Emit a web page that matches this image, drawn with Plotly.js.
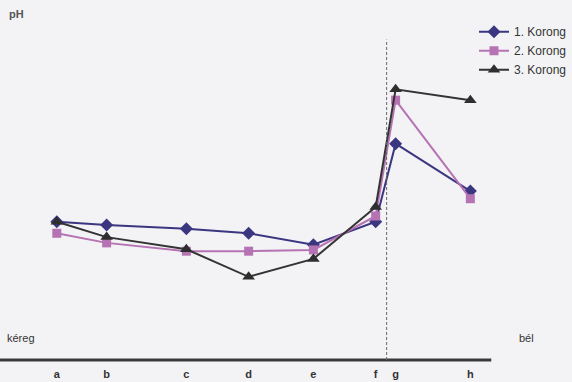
<!DOCTYPE html>
<html>
<head>
<meta charset="utf-8">
<script src="https://cdn.plot.ly/plotly-3.0.1.min.js"></script>
<style>html,body{margin:0;padding:0;background:#f3f3f5;}#chart{width:572px;height:382px;}</style>
</head>
<body>
<div id="chart"></div>
<script>
// Categories (sampling positions from bark "kéreg" to pith "bél") and their relative depths
const categories = ['a', 'b', 'c', 'd', 'e', 'f', 'g', 'h'];
const depth = [1, 2, 3.6, 4.85, 6.15, 7.4, 7.8, 9.3];
// pH values per disc
const korong1 = [6.16, 6.11, 6.05, 5.98, 5.80, 6.16, 7.38, 6.64];
const korong2 = [5.98, 5.83, 5.70, 5.70, 5.72, 6.25, 8.06, 6.52];
const korong3 = [6.16, 5.92, 5.73, 5.30, 5.58, 6.39, 8.23, 8.06];
const seriesNames = ['1. Korong', '2. Korong', '3. Korong'];

const font = 'Liberation Sans, Arial, sans-serif';
const traces = [
  {x: depth, y: korong1, name: seriesNames[0], mode: 'lines+markers',
   line: {color: '#3b3680', width: 2}, marker: {symbol: 'diamond', size: 10, color: '#3b3680'}},
  {x: depth, y: korong2, name: seriesNames[1], mode: 'lines+markers',
   line: {color: '#b673b4', width: 2}, marker: {symbol: 'square', size: 9, color: '#b673b4'}},
  {x: depth, y: korong3, name: seriesNames[2], mode: 'lines+markers',
   line: {color: '#333333', width: 2}, marker: {symbol: 'triangle-up', size: 11, color: '#2e2e2e'}}
];

const layout = {
  width: 572, height: 382,
  margin: {l: 0, r: 0, t: 0, b: 22},
  paper_bgcolor: '#f3f3f5', plot_bgcolor: 'rgba(0,0,0,0)',
  showlegend: true,
  legend: {x: 0.832, y: 0.952, xanchor: 'left', yanchor: 'top', bgcolor: 'rgba(0,0,0,0)',
           font: {family: font, size: 12, color: '#333'}, tracegroupgap: 0, itemwidth: 30},
  xaxis: {range: [-0.14, 11.3], showgrid: false, zeroline: false, showline: false,
          tickmode: 'array', tickvals: depth, ticktext: categories, ticks: '', ticklen: 0,
          ticklabelstandoff: 6,
          tickfont: {family: font, size: 11, color: '#333', weight: 'bold'}, fixedrange: true},
  yaxis: {range: [4, 9.625], showgrid: false, zeroline: false, showline: false,
          showticklabels: false, ticks: '', fixedrange: true},
  shapes: [
    {type: 'line', xref: 'x', yref: 'paper', x0: -0.14, x1: 9.72, y0: 0, y1: 0,
     line: {color: '#3a3a3a', width: 3}},
    {type: 'line', xref: 'x', yref: 'paper', x0: 7.62, x1: 7.62, y0: 0, y1: 0.89,
     line: {color: '#666', width: 1, dash: '3px,2px'}}
  ],
  annotations: [
    {text: '<b>pH</b>', xref: 'paper', yref: 'paper', x: 0.012, y: 0.962, xanchor: 'left', yanchor: 'middle',
     showarrow: false, font: {family: font, size: 11, color: '#555'}},
    {text: 'kéreg', xref: 'paper', yref: 'paper', x: 0.008, y: 0.06, xanchor: 'left', yanchor: 'middle',
     showarrow: false, font: {family: font, size: 11, color: '#333'}},
    {text: 'bél', xref: 'paper', yref: 'paper', x: 0.94, y: 0.06, xanchor: 'right', yanchor: 'middle',
     showarrow: false, font: {family: font, size: 11, color: '#333'}}
  ]
};

Plotly.newPlot('chart', traces, layout, {displayModeBar: false, staticPlot: true});
</script>
</body>
</html>
